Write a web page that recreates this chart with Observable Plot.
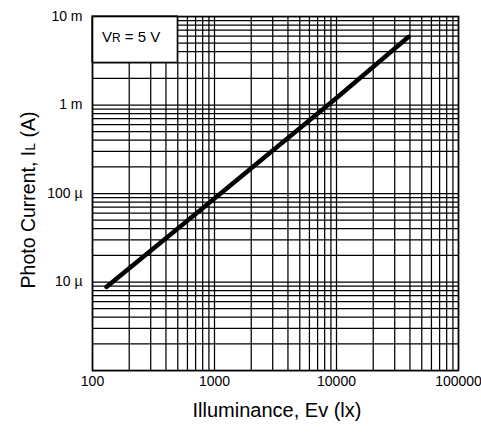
<!DOCTYPE html>
<html><head><meta charset="utf-8">
<script src="https://cdn.jsdelivr.net/npm/d3@7"></script>
<script src="https://cdn.jsdelivr.net/npm/@observablehq/plot@0.6"></script>
<style>
body{margin:0;background:#fff}
g[aria-label="x-axis tick label"]{font-size:14px}
g[aria-label="y-axis tick label"]{font-size:14px}
</style>
</head><body><div id="chart"></div>
<script>
// Curve
const illuminanceLx = [130, 1000, 10000, 39000];
const photoCurrentA = [8.8e-6, 8.8e-5, 1.2e-3, 5.9e-3];
// Ticks
const xTicks = [100, 1000, 10000, 100000];
const xTickLabels = ["100", "1000", "10000", "100000"];
const yTicks = [1e-2, 1e-3, 1e-4, 1e-5];
const yTickLabels = ["10 m", "1 m", "100 \u00b5", "10 \u00b5"];
// Log grid
const xDecades = [100, 1000, 10000];
const yDecades = [1e-6, 1e-5, 1e-4, 1e-3];
const gridMultipliers = [1, 2, 3, 4, 5, 6, 7, 8, 9];
// Condition box (lx / A corners)
const boxLux = [100, 500];
const boxCurrent = [3e-3, 1e-2];

const xGrid = xDecades.flatMap(d => gridMultipliers.map(m => d * m)).concat([100000]);
const yGrid = yDecades.flatMap(d => gridMultipliers.map(m => d * m)).concat([1e-2]);
const lineData = illuminanceLx.map((x, i) => ({x, y: photoCurrentA[i]}));
const boxData = [{x1: boxLux[0], x2: boxLux[1], y1: boxCurrent[0], y2: boxCurrent[1]}];

const font = "'Liberation Sans', Arial, Helvetica, sans-serif";

const plot = Plot.plot({
  width: 481, height: 434,
  marginLeft: 92, marginRight: 23, marginTop: 16, marginBottom: 64,
  x: {type: "log", domain: [100, 100000]},
  y: {type: "log", domain: [1e-6, 1e-2]},
  style: {fontFamily: font, color: "black", background: "white"},
  marks: [
    Plot.ruleX(xGrid, {x: d => d, stroke: "black", strokeWidth: 1.25}),
    Plot.ruleY(yGrid, {y: d => d, stroke: "black", strokeWidth: 1.25}),
    Plot.rect(boxData, {x1: "x1", x2: "x2", y1: "y1", y2: "y2", fill: "white", stroke: "black", strokeWidth: 1.2}),
    Plot.frame({stroke: "black", strokeWidth: 1.6}),
    Plot.line(lineData, {x: "x", y: "y", stroke: "black", strokeWidth: 4.5}),
    Plot.axisX(xTicks, {tickSize: 0, tickPadding: 6, fontSize: 14, label: null,
      tickFormat: d => xTickLabels[xTicks.indexOf(d)]}),
    Plot.axisY(yTicks, {tickSize: 0, tickPadding: 10, fontSize: 14, label: null,
      tickFormat: d => yTickLabels[yTicks.indexOf(d)]})
  ]
});

document.getElementById("chart").appendChild(plot);

const sx = plot.scale("x"), sy = plot.scale("y");
const svg = d3.select(plot);
const xMid = (sx.range[0] + sx.range[1]) / 2;
const yMid = (sy.range[0] + sy.range[1]) / 2;

// Condition label
const cond = svg.append("text")
  .attr("x", sx.apply(boxLux[0]) + 10)
  .attr("y", sy.apply(boxCurrent[1]) + 26)
  .attr("text-anchor", "start")
  .attr("font-family", font).attr("font-size", 15).attr("fill", "black");
cond.append("tspan").text("V");
cond.append("tspan").attr("font-size", 12).text("R");
cond.append("tspan").text(" = 5 V");

// X axis title
const xt = svg.append("text")
  .attr("x", xMid + 2).attr("y", 417)
  .attr("text-anchor", "middle")
  .attr("font-family", font).attr("font-size", 20).attr("fill", "black");
xt.append("tspan").text("Illuminance, E");
xt.append("tspan").text("v");
xt.append("tspan").text(" (lx)");

// Y axis title
const yt = svg.append("text")
  .attr("transform", `translate(35,${yMid + 7}) rotate(-90)`)
  .attr("text-anchor", "middle")
  .attr("font-family", font).attr("font-size", 19.5).attr("fill", "black");
yt.append("tspan").text("Photo Current, I");
yt.append("tspan").attr("font-size", 14).text("L");
yt.append("tspan").text(" (A)");
</script>
</body></html>
